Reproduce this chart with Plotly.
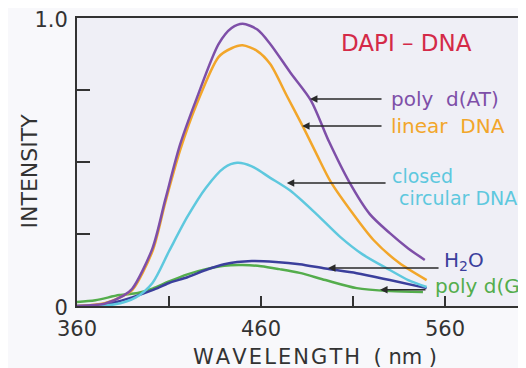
import plotly.graph_objects as go

# ---- data ----
wl_at = [360, 375, 385, 390, 401, 408, 416, 425, 437, 444, 450, 458, 465, 476, 487, 497, 508, 519, 530, 540, 549]
int_at = [0.0, 0.008, 0.035, 0.06, 0.20, 0.37, 0.56, 0.72, 0.91, 0.965, 0.98, 0.96, 0.91, 0.81, 0.715, 0.57, 0.43, 0.32, 0.253, 0.20, 0.16]

wl_lin = [360, 375, 385, 390, 401, 408, 416, 425, 437, 444, 450, 458, 465, 474, 483, 490, 498, 510, 521, 535, 550]
int_lin = [0.0, 0.01, 0.035, 0.055, 0.19, 0.36, 0.54, 0.70, 0.865, 0.895, 0.905, 0.885, 0.84, 0.73, 0.62, 0.53, 0.43, 0.32, 0.23, 0.15, 0.09]

wl_cc = [360, 380, 392, 401, 410, 420, 430, 440, 447, 455, 465, 476, 490, 503, 515, 530, 540, 550]
int_cc = [0.0, 0.005, 0.03, 0.08, 0.19, 0.31, 0.41, 0.48, 0.497, 0.485, 0.445, 0.40, 0.32, 0.24, 0.18, 0.125, 0.09, 0.066]

wl_h2o = [360, 370, 380, 390, 401, 410, 420, 430, 440, 455, 468, 481, 495, 512, 530, 550]
int_h2o = [0.0, 0.003, 0.012, 0.03, 0.055, 0.08, 0.10, 0.125, 0.145, 0.156, 0.153, 0.145, 0.13, 0.114, 0.09, 0.062]

wl_gc = [360, 370, 383, 393, 401, 410, 420, 430, 440, 450, 460, 470, 481, 495, 512, 530, 548]
int_gc = [0.014, 0.02, 0.038, 0.045, 0.06, 0.085, 0.11, 0.128, 0.14, 0.142, 0.138, 0.128, 0.115, 0.09, 0.062, 0.052, 0.049]

x_tickvals = [360, 410, 460, 510, 560]
x_ticktext = ["360", "", "460", "", "560"]
y_tickvals = [0, 0.25, 0.5, 0.75, 1.0]
y_ticktext = ["0", "", "", "", "1.0"]

C_AT = "#7e4fa8"
C_LIN = "#f2a62a"
C_CC = "#5ec8de"
C_H2O = "#3b3f9c"
C_GC = "#54ad4c"

FONT = "DejaVu Sans"
HS = "\u200a"  # hair space for letter spacing

fig = go.Figure()
for wl, val, col in [
    (wl_gc, int_gc, C_GC),
    (wl_h2o, int_h2o, C_H2O),
    (wl_cc, int_cc, C_CC),
    (wl_lin, int_lin, C_LIN),
    (wl_at, int_at, C_AT),
]:
    fig.add_trace(go.Scatter(x=wl, y=val, mode="lines",
                             line=dict(color=col, width=2.5, shape="spline", smoothing=0.8),
                             showlegend=False, hoverinfo="skip"))

arrow_col = "#2a2a2a"
# arrows: (tip_x, tip_y, tail_x, tail_y)
arrows = [
    (486.6, 0.719, 526.3, 0.719),
    (482.3, 0.625, 526.3, 0.625),
    (474.0, 0.427, 528.5, 0.427),
    (496.4, 0.132, 557.3, 0.132),
    (524.7, 0.056, 550.2, 0.056),
]
for tx, ty, ax, ay in arrows:
    fig.add_annotation(x=tx, y=ty, ax=ax, ay=ay, xref="x", yref="y", axref="x", ayref="y",
                       text="", showarrow=True, arrowhead=2, arrowsize=1, arrowwidth=1.5,
                       arrowcolor=arrow_col)

labels = [
    ("poly  d(AT)", 529.6, 0.719, C_AT, 20),
    ("linear  DNA", 529.6, 0.625, C_LIN, 20),
    ("closed", 530.0, 0.450, C_CC, 19),
    ("circular DNA", 534.0, 0.376, C_CC, 19),
    ("H<sub>2</sub>O", 558.4, 0.157, C_H2O, 20),
    ("poly d(GC)", 553.5, 0.071, C_GC, 20),
]
for txt, x, y, col, sz in labels:
    fig.add_annotation(x=x, y=y, xref="x", yref="y", text=txt, showarrow=False,
                       xanchor="left", yanchor="middle",
                       font=dict(family=FONT, size=sz, color=col))

fig.add_annotation(x=538.8, y=0.913, xref="x", yref="y", text="DAPI – DNA", showarrow=False,
                   xanchor="center", yanchor="middle",
                   font=dict(family=FONT, size=23, color="#d42a48"))

fig.add_annotation(x=-0.105, y=0.47, xref="paper", yref="paper", text="INTENSITY",
                   showarrow=False, textangle=-90, xanchor="center", yanchor="middle",
                   font=dict(family=FONT, size=22, color="#333333"))
fig.add_annotation(x=0.53, y=-0.177, xref="paper", yref="paper",
                   text=HS.join("WAVELENGTH") + "  ( nm )",
                   showarrow=False, xanchor="center", yanchor="middle",
                   font=dict(family=FONT, size=21, color="#333333"))

# the page adds an 8px body margin, so the figure is sized to fit inside the window
fig.update_layout(
    width=518, height=360,
    margin=dict(l=69, r=0, t=10, b=62),
    paper_bgcolor="#f8f8fb",
    plot_bgcolor="#efeff6",
    showlegend=False,
    xaxis=dict(range=[360, 604], tickvals=x_tickvals, ticktext=x_ticktext,
               ticks="inside", ticklen=10, tickwidth=2, tickcolor="#333333",
               showline=True, linecolor="#333333", linewidth=2, mirror=True,
               showgrid=False, zeroline=False, ticklabelstandoff=3,
               automargin=False, ticklabeloverflow="allow",
               tickfont=dict(family=FONT, size=21, color="#333333")),
    yaxis=dict(range=[0, 1.0], tickvals=y_tickvals, ticktext=y_ticktext,
               ticks="inside", ticklen=13, tickwidth=2, tickcolor="#333333",
               showline=True, linecolor="#333333", linewidth=2,
               showgrid=False, zeroline=False, ticklabelstandoff=3,
               ticklabelshift=2,
               automargin=False, ticklabeloverflow="allow",
               tickfont=dict(family=FONT, size=21, color="#333333")),
)

fig.write_html("out.html")
